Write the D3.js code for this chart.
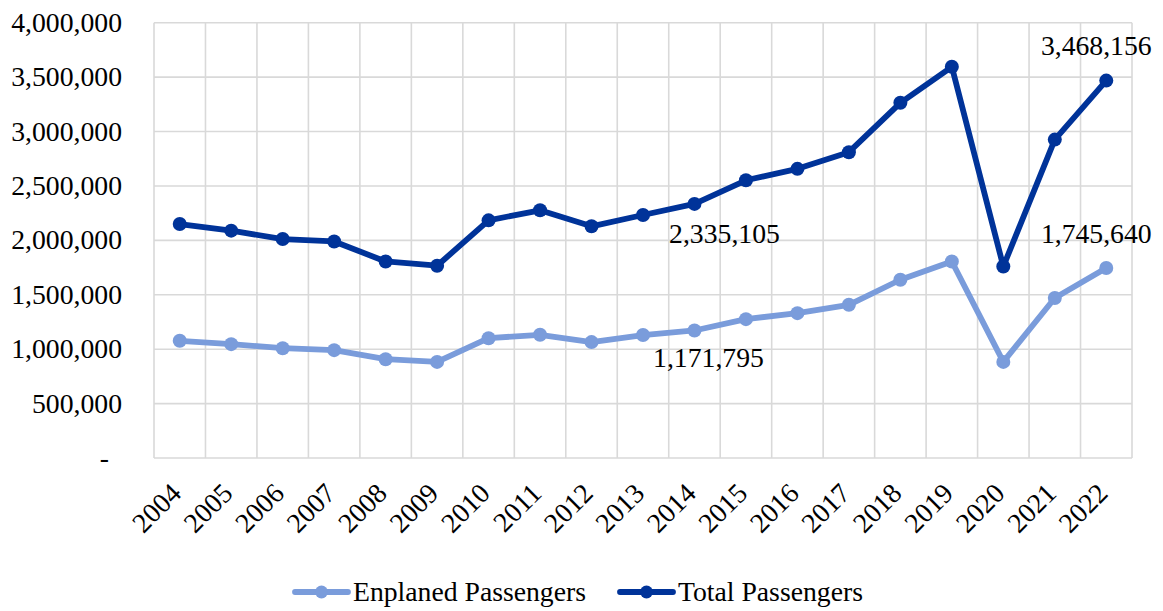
<!DOCTYPE html>
<html>
<head>
<meta charset="utf-8">
<script src="https://cdn.jsdelivr.net/npm/d3@7"></script>
<style>
  html, body { margin: 0; padding: 0; background: #ffffff; }
  svg text { font-family: "Liberation Serif", "Times New Roman", serif; fill: #000; }
</style>
</head>
<body>
<svg id="chart" width="1163" height="611"></svg>
<script>
// Airport passenger counts by year
const years = ["2004","2005","2006","2007","2008","2009","2010","2011","2012","2013",
               "2014","2015","2016","2017","2018","2019","2020","2021","2022"];
const enplaned = [1077000, 1046000, 1009000, 991000, 908000, 883000, 1101000, 1132000, 1065000, 1130000,
                  1171795, 1276000, 1331000, 1408000, 1638000, 1806000, 883000, 1470000, 1745640];
const total = [2150000, 2089000, 2012000, 1990000, 1806000, 1767000, 2184000, 2276000, 2129000, 2233000,
               2335105, 2552000, 2657000, 2810000, 3264000, 3595000, 1760000, 2926000, 3468156];
const yTicks = [0, 500000, 1000000, 1500000, 2000000, 2500000, 3000000, 3500000, 4000000];
const seriesNames = ["Enplaned Passengers", "Total Passengers"];
const seriesColors = ["#7a9cdb", "#003399"];

// Labelled points: series index, year index, label offset (dx, dy)
const labelled = [
  { s: 1, i: 10, dx: 30, dy: 39 },
  { s: 0, i: 10, dx: 14, dy: 37 },
  { s: 1, i: 18, dx: -10, dy: -26 },
  { s: 0, i: 18, dx: -10, dy: -25 }
];

const svg = d3.select("#chart");
const fontSize = 27.7;
const plot = { left: 154, right: 1132, top: 22.7, bottom: 458 };

const x = d3.scaleBand().domain(years).range([plot.left, plot.right]).padding(0);
const y = d3.scaleLinear().domain([0, 4000000]).range([plot.bottom, plot.top]);
const fmt = d3.format(",");

// Gridlines
const grid = svg.append("g").attr("stroke", "#d9d9d9").attr("stroke-width", 1.6);
yTicks.forEach(t => {
  grid.append("line").attr("x1", plot.left).attr("x2", plot.right)
    .attr("y1", y(t)).attr("y2", y(t));
});
years.concat([null]).forEach(yr => {
  const xv = yr === null ? plot.right : x(yr);
  grid.append("line").attr("x1", xv).attr("x2", xv)
    .attr("y1", plot.top).attr("y2", plot.bottom);
});

// Y axis labels
const yAxis = svg.append("g");
yTicks.forEach(t => {
  yAxis.append("text")
    .attr("x", t === 0 ? 109 : 122)
    .attr("y", y(t) + 9)
    .attr("text-anchor", "end")
    .attr("font-size", fontSize)
    .text(t === 0 ? "-" : fmt(t));
});

// X axis labels (rotated)
const xAxis = svg.append("g");
years.forEach(yr => {
  const cx = x(yr) + x.bandwidth() / 2 + 3;
  const cy = plot.bottom + 37;
  xAxis.append("text")
    .attr("transform", `translate(${cx},${cy}) rotate(-45)`)
    .attr("text-anchor", "end")
    .attr("font-size", fontSize)
    .text(yr);
});

// Lines and markers
const seriesData = [enplaned, total];
const line = d3.line()
  .x((d, i) => x(years[i]) + x.bandwidth() / 2)
  .y(d => y(d));

seriesData.forEach((vals, s) => {
  const g = svg.append("g");
  g.append("path")
    .attr("d", line(vals))
    .attr("fill", "none")
    .attr("stroke", seriesColors[s])
    .attr("stroke-width", 5.8)
    .attr("stroke-linejoin", "round");
  g.selectAll("circle").data(vals).enter().append("circle")
    .attr("cx", (d, i) => x(years[i]) + x.bandwidth() / 2)
    .attr("cy", d => y(d))
    .attr("r", 7)
    .attr("fill", seriesColors[s]);
});

// Data labels
labelled.forEach(l => {
  const v = seriesData[l.s][l.i];
  svg.append("text")
    .attr("x", x(years[l.i]) + x.bandwidth() / 2 + l.dx)
    .attr("y", y(v) + l.dy)
    .attr("text-anchor", "middle")
    .attr("font-size", fontSize)
    .text(fmt(v));
});

// Legend
const legendItems = [
  { x0: 295, tx: 353 },
  { x0: 620, tx: 678 }
];
const legendY = 592;
legendItems.forEach((item, s) => {
  const g = svg.append("g");
  g.append("line")
    .attr("x1", item.x0).attr("x2", item.x0 + 53)
    .attr("y1", legendY).attr("y2", legendY)
    .attr("stroke", seriesColors[s]).attr("stroke-width", 5.8)
    .attr("stroke-linecap", "round");
  g.append("circle").attr("cx", item.x0 + 26.5).attr("cy", legendY).attr("r", 6.5)
    .attr("fill", seriesColors[s]);
  g.append("text")
    .attr("x", item.tx).attr("y", legendY + 9)
    .attr("font-size", fontSize)
    .text(seriesNames[s]);
});
</script>
</body>
</html>
